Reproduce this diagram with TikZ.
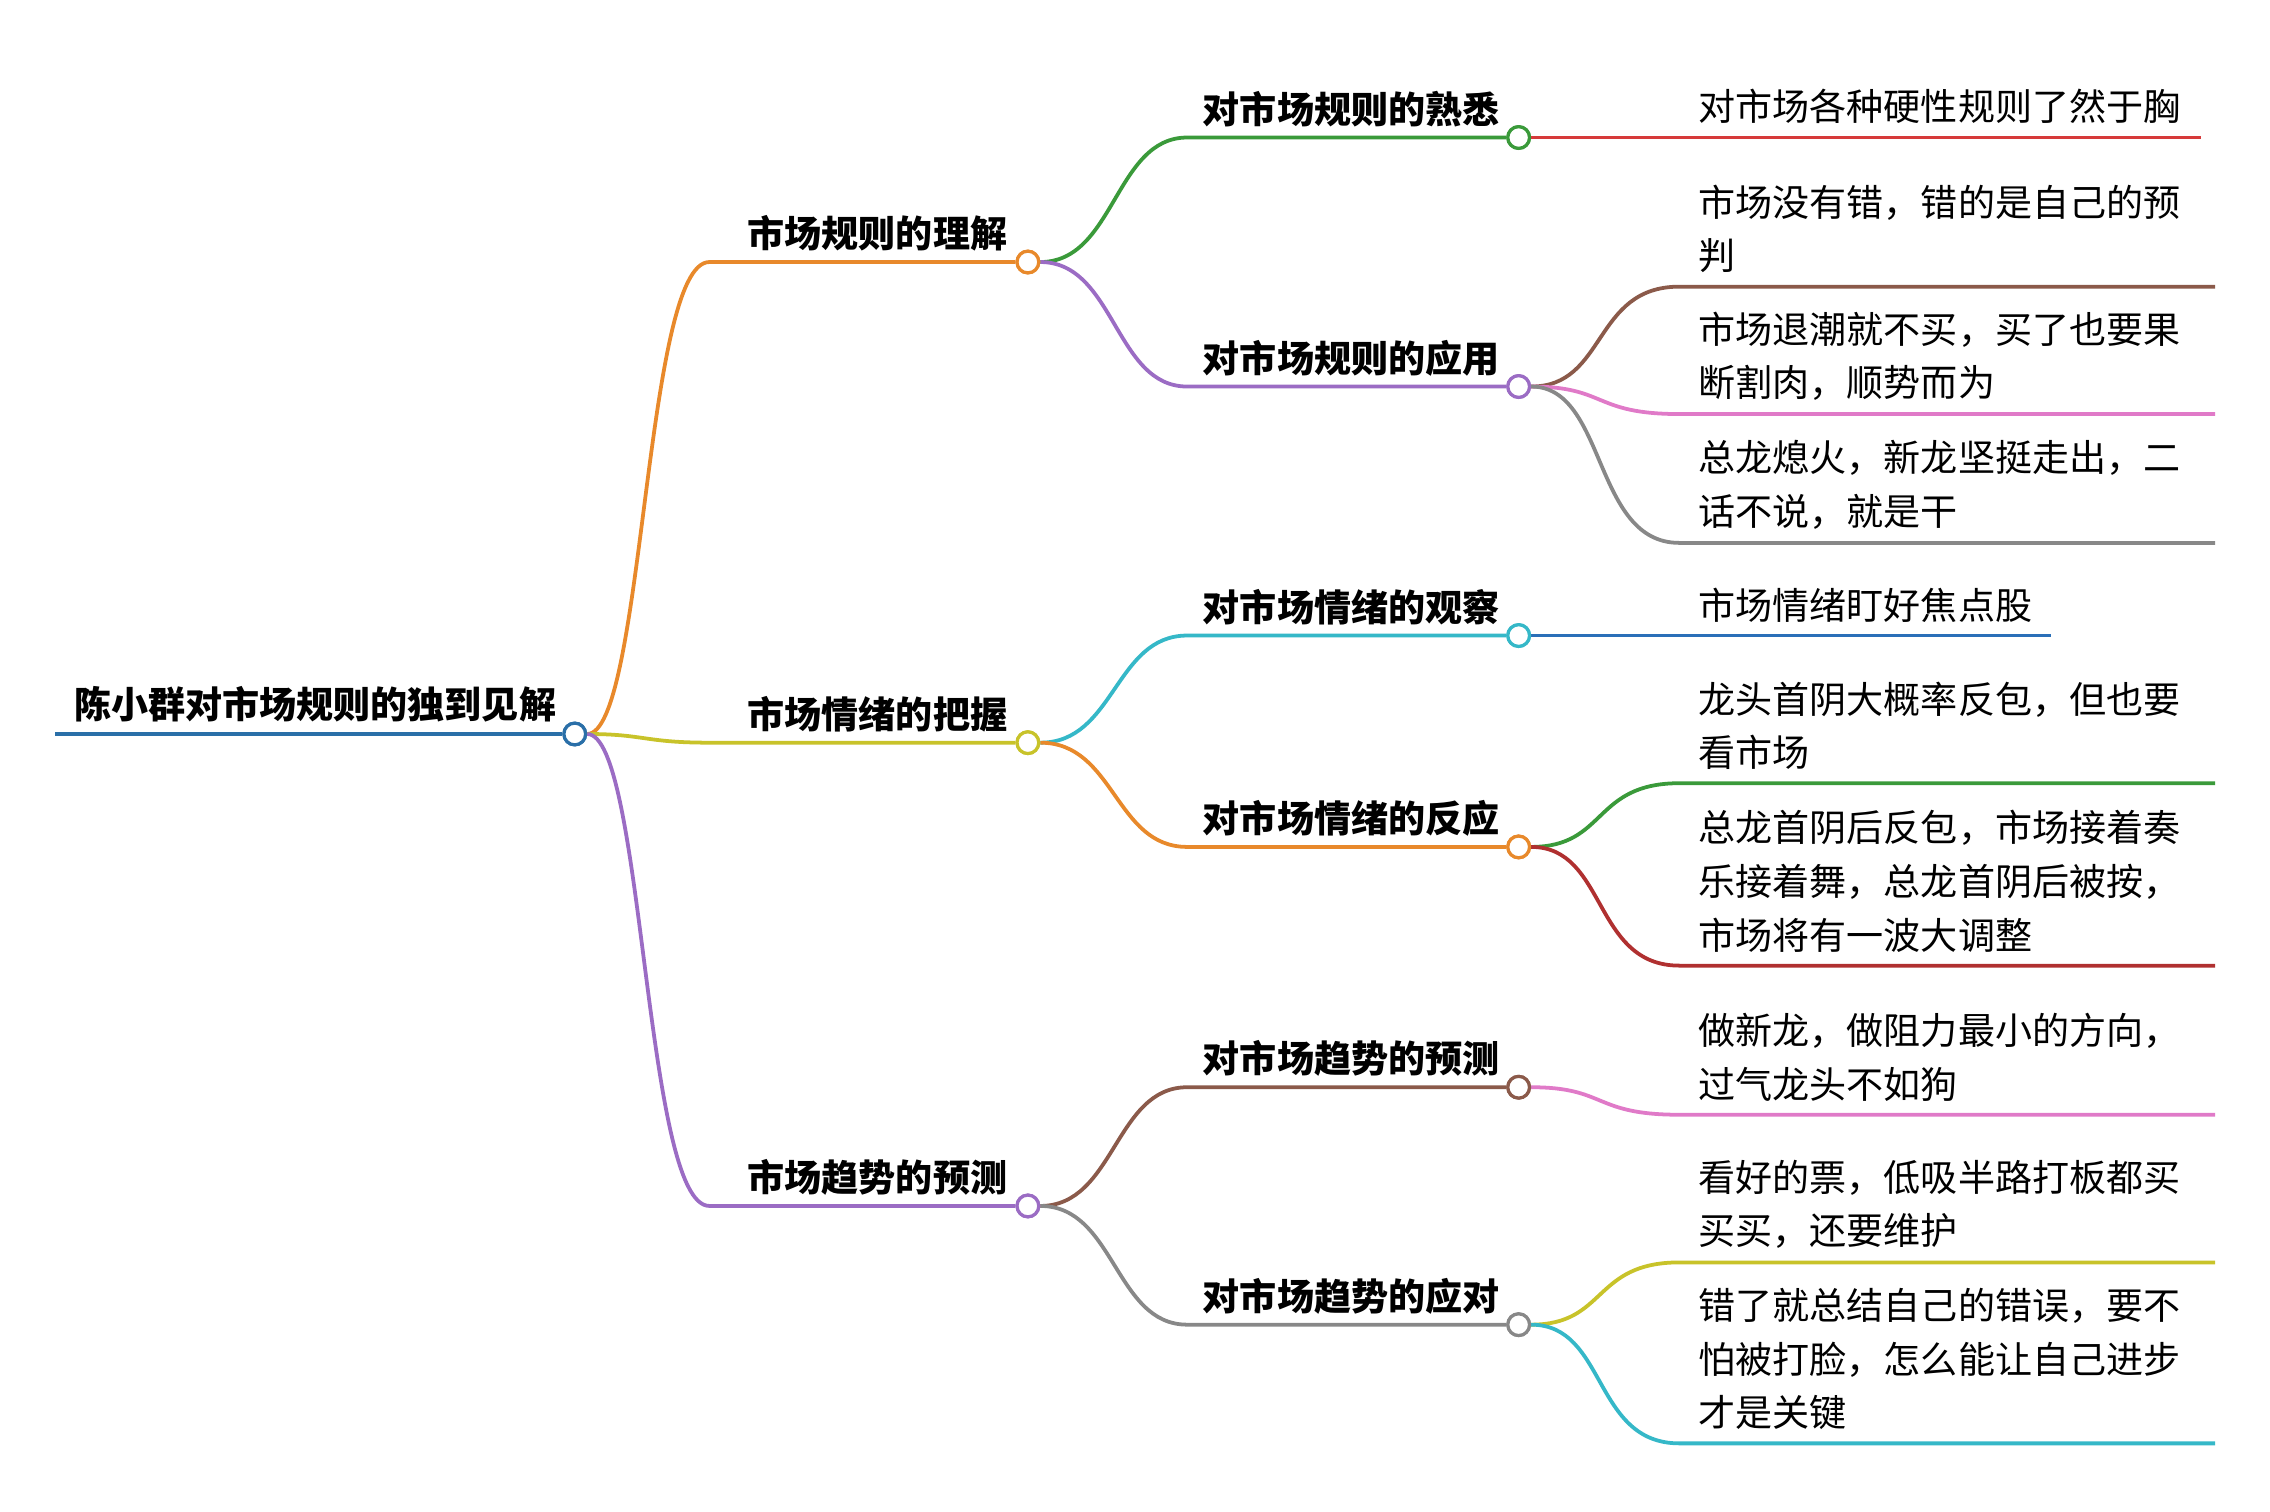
\documentclass[tikz,border=0pt]{standalone}
\usepackage{fontspec}
\newfontfamily\cjk{Noto Sans CJK SC}
\definecolor{cblue}{HTML}{2A6FA8}
\definecolor{corange}{HTML}{E8892B}
\definecolor{colive}{HTML}{C8C32A}
\definecolor{cpurple}{HTML}{9B6CC4}
\definecolor{cgreen}{HTML}{3A9A3A}
\definecolor{ccyan}{HTML}{35B8C8}
\definecolor{cbrown}{HTML}{8B5A4A}
\definecolor{cgray}{HTML}{888888}
\definecolor{cred}{HTML}{D63A3A}
\definecolor{cpink}{HTML}{E07AC8}
\definecolor{cdred}{HTML}{B03030}
\definecolor{cleafblue}{HTML}{2A6FB8}
\begin{document}
\begin{tikzpicture}[x=0.5pt,y=-0.5pt,line width=1.3pt,
  dot/.style={circle,draw,fill=white,inner sep=0pt,minimum size=7.5pt,line width=1.1pt},
  bt/.style={font=\cjk\bfseries\fontsize{12.8}{15}\selectfont,inner sep=0pt,anchor=south east},
  lt/.style={font=\cjk\fontsize{12.8}{18.5}\selectfont,inner sep=0pt,anchor=south west,align=left}]
\useasboundingbox[fill=white] (0,0) rectangle (1568,1044);
% root
\coordinate (r0) at (38,507);
\node[dot,draw=cblue] (r) at (397,507) {};
\draw[cblue] (r0) -- (r);
\node[bt,anchor=south west] at (50,500) {陈小群对市场规则的独到见解};
% level 1
\foreach \n/\y/\c/\t in {a/181/corange/市场规则的理解, b/513/colive/市场情绪的把握, c/833/cpurple/市场趋势的预测}{
  \node[dot,draw=\c] (\n) at (710,\y) {};
  \coordinate (\n s) at (490,\y);
  \draw[\c] (r) .. controls (445,507) and (445,\y) .. (\n s) -- (\n);
  \node[bt] at (697,\y-6) {\t};
}
% level 2
\foreach \p/\py/\n/\y/\c/\t in {a/181/a1/95/cgreen/对市场规则的熟悉, a/181/a2/267/cpurple/对市场规则的应用, b/513/b1/439/ccyan/对市场情绪的观察, b/513/b2/585/corange/对市场情绪的反应, c/833/c1/751/cbrown/对市场趋势的预测, c/833/c2/915/cgray/对市场趋势的应对}{
  \node[dot,draw=\c] (\n) at (1049,\y) {};
  \coordinate (\n s) at (820,\y);
  \draw[\c] (\p) .. controls (770,\py) and (770,\y) .. (\n s) -- (\n);
  \node[bt] at (1037,\y-6) {\t};
}
% leaves
\foreach \p/\py/\n/\y/\e/\c/\t in {
 a1/95/l1/95/1520/cred/{对市场各种硬性规则了然于胸},
 a2/267/l2/198/1530/cbrown/{市场没有错，错的是自己的预\\判},
 a2/267/l3/286/1530/cpink/{市场退潮就不买，买了也要果\\断割肉，顺势而为},
 a2/267/l4/375/1530/cgray/{总龙熄火，新龙坚挺走出，二\\话不说，就是干},
 b1/439/l5/439/1417/cleafblue/{市场情绪盯好焦点股},
 b2/585/l6/541/1530/cgreen/{龙头首阴大概率反包，但也要\\看市场},
 b2/585/l7/667/1530/cdred/{总龙首阴后反包，市场接着奏\\乐接着舞，总龙首阴后被按，\\市场将有一波大调整},
 c1/751/l8/770/1530/cpink/{做新龙，做阻力最小的方向，\\过气龙头不如狗},
 c2/915/l9/872/1530/colive/{看好的票，低吸半路打板都买\\买买，还要维护},
 c2/915/l10/997/1530/ccyan/{错了就总结自己的错误，要不\\怕被打脸，怎么能让自己进步\\才是关键}}{
  \coordinate (\n s) at (1160,\y);
  \coordinate (\n e) at (\e,\y);
  \draw[\c] (\p) .. controls (1110,\py) and (1100,\y) .. (\n s) -- (\n e);
  \node[lt] at (1172,\y-8) {\t};
}
\foreach \n/\c in {a/corange,b/colive,c/cpurple,a1/cgreen,a2/cpurple,b1/ccyan,b2/corange,c1/cbrown,c2/cgray}{\node[dot,draw=\c] at (\n) {};}
\node[dot,draw=cblue] at (r) {};
\end{tikzpicture}
\end{document}
